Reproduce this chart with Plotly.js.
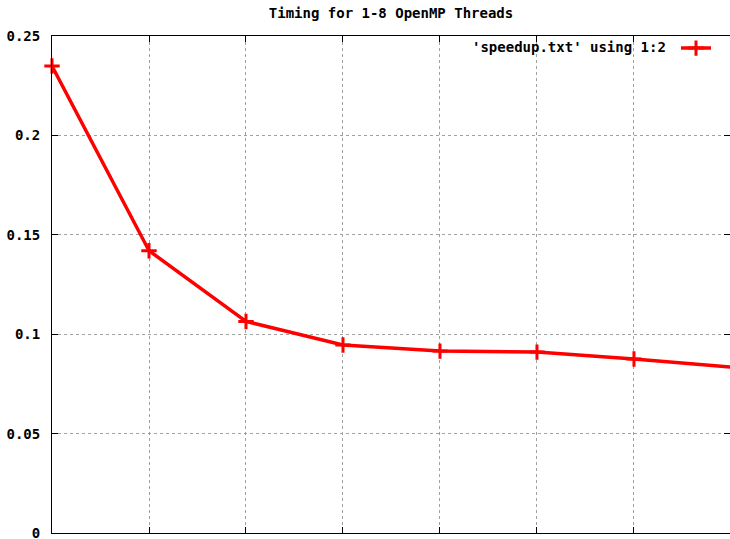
<!DOCTYPE html>
<html>
<head>
<meta charset="utf-8">
<script src="https://cdn.plot.ly/plotly-3.0.1.min.js"></script>
<style>html,body{margin:0;padding:0;background:#fff;}#chart{width:730px;height:539px;}</style>
</head>
<body>
<div id="chart"></div>
<script>
const threads = [1, 2, 3, 4, 5, 6, 7, 8];
const timing = [0.2349, 0.1420, 0.1064, 0.0946, 0.0915, 0.0910, 0.0875, 0.0835];
const yTickVals = [0, 0.05, 0.1, 0.15, 0.2, 0.25];
const yTickText = ['0', '0.05', '0.1', '0.15', '0.2', '0.25'];
const titleText = 'Timing for 1-8 OpenMP Threads';
const seriesName = "'speedup.txt' using 1:2";

const FONT = 'DejaVu Sans Mono, Liberation Mono, monospace';

const trace = {
  x: threads,
  y: timing,
  type: 'scatter',
  mode: 'lines+markers',
  name: ' ',
  line: {color: '#ff0000', width: 3.5},
  marker: {symbol: 'cross-thin-open', size: 11, color: '#ff0000', line: {color: '#ff0000', width: 3}},
  showlegend: true,
  cliponaxis: false
};

const axisCommon = {
  showline: true,
  linecolor: '#000',
  linewidth: 1,
  mirror: 'ticks',
  ticks: 'inside',
  ticklen: 6,
  tickwidth: 1,
  tickcolor: '#000',
  showgrid: true,
  gridcolor: '#a0a0a0',
  griddash: 'dot',
  gridwidth: 1,
  zeroline: false
};

const layout = {
  width: 730,
  height: 539,
  margin: {l: 52, r: 0, t: 36, b: 6},
  paper_bgcolor: '#fff',
  plot_bgcolor: '#fff',
  font: {family: FONT, size: 14, color: '#000', weight: 'bold'},
  title: {text: titleText, xref: 'paper', x: 0.5, xanchor: 'center', y: 0.985, yanchor: 'top',
          font: {family: FONT, size: 14, color: '#000', weight: 'bold'}},
  xaxis: Object.assign({}, axisCommon, {
    range: [1, 7.99],
    tickvals: threads,
    showticklabels: false
  }),
  yaxis: Object.assign({}, axisCommon, {
    range: [0, 0.25],
    tickvals: yTickVals,
    ticktext: yTickText,
    ticklabelstandoff: 8,
    ticklabeloverflow: 'allow',
    tickfont: {family: FONT, size: 14, color: '#000', weight: 'bold'}
  }),
  showlegend: true,
  legend: {
    x: 1.0, xanchor: 'right', y: 1.007, yanchor: 'top',
    bgcolor: 'rgba(0,0,0,0)', borderwidth: 0,
    itemwidth: 30,
    font: {family: FONT, size: 14}
  },
  annotations: [{
    xref: 'paper', yref: 'paper',
    x: 0.909, y: 0.978, xanchor: 'right', yanchor: 'middle',
    text: seriesName, showarrow: false,
    font: {family: FONT, size: 14, color: '#000', weight: 'bold'}
  }]
};

Plotly.newPlot('chart', [trace], layout, {displayModeBar: false, staticPlot: true});
</script>
</body>
</html>
